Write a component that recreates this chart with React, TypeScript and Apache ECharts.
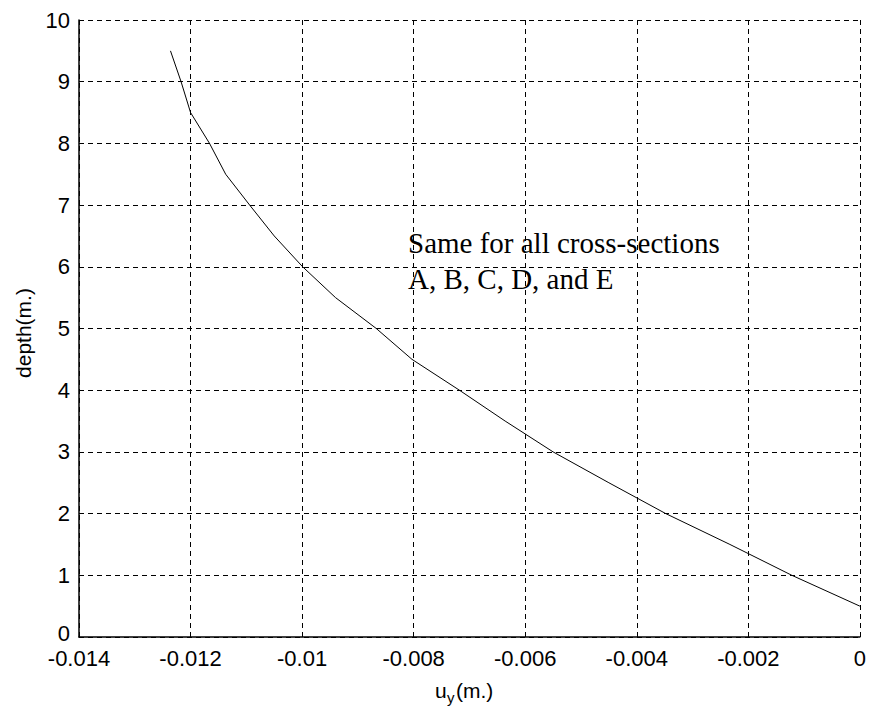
import React, { useEffect, useRef } from "react";
import * as echarts from "echarts";

const depthValues: number[] = [9.5, 9.0, 8.5, 8.0, 7.5, 7.0, 6.5, 6.0, 5.5, 5.0, 4.5, 4.0, 3.5, 3.0, 2.5, 2.0, 1.5, 1.0, 0.5];
const uyValues: number[] = [
  -0.01236, -0.01217, -0.012, -0.01166, -0.01137, -0.01094, -0.0105, -0.00999, -0.0094, -0.00867,
  -0.00803, -0.00718, -0.00636, -0.0055, -0.0045, -0.00348, -0.00233, -0.00122, 0.0,
];
const annotationLines: string[] = ["Same for all cross-sections", "A, B, C, D, and E"];
const xAxisTitle = { main: "u", sub: "y", tail: "(m.)" };
const yAxisTitle = "depth(m.)";

const SANS = "'Liberation Sans', Arial, Helvetica, sans-serif";
const SERIF = "'Liberation Serif', 'Times New Roman', serif";

export default function App() {
  const ref = useRef<HTMLDivElement>(null);
  useEffect(() => {
    document.body.style.margin = "0";
    if (!ref.current) return;
    const chart = echarts.init(ref.current, undefined, { renderer: "svg" });
    const data = depthValues.map((d, i) => [uyValues[i], d]);
    const gridLine = { show: true, lineStyle: { color: "#000", type: [5, 4] as any, width: 1 } };
    chart.setOption({
      animation: false,
      backgroundColor: "#fff",
      grid: { left: 79, right: 7, top: 20, bottom: 76, containLabel: false },
      xAxis: {
        type: "value",
        min: -0.014,
        max: 0,
        interval: 0.002,
        axisLine: { show: true, onZero: false, lineStyle: { color: "#000", width: 1.5 } },
        axisTick: { show: true, inside: true, length: 5, lineStyle: { color: "#000" } },
        axisLabel: {
          color: "#000",
          fontSize: 22,
          lineHeight: 20,
          fontFamily: SANS,
          margin: 11,
          formatter: (v: number) => String(+v.toFixed(3)),
        },
        splitLine: gridLine,
      },
      yAxis: {
        type: "value",
        min: 0,
        max: 10,
        interval: 1,
        axisLine: { show: true, onZero: false, lineStyle: { color: "#000", width: 1.5 } },
        axisTick: { show: true, inside: true, length: 5, lineStyle: { color: "#000" } },
        axisLabel: {
          color: "#000",
          fontSize: 22,
          lineHeight: 18,
          fontFamily: SANS,
          margin: 9,
          formatter: (v: number) => (v === 0 ? "{z|0}" : String(v)),
          rich: {
            z: { color: "#000", fontSize: 22, lineHeight: 18, fontFamily: SANS, padding: [0, 0, 8, 0] },
          },
        },
        splitLine: gridLine,
      },
      series: [
        {
          type: "line",
          data,
          showSymbol: false,
          symbol: "none",
          lineStyle: { color: "#000", width: 1 },
        },
      ],
      graphic: [
        {
          type: "text",
          left: 408,
          top: 225,
          style: {
            text: annotationLines.join("\n"),
            font: `29px ${SERIF}`,
            lineHeight: 36,
            fill: "#000",
          },
        },
        {
          type: "text",
          x: 435,
          y: 690,
          style: { text: xAxisTitle.main, font: `21px ${SANS}`, fill: "#000", verticalAlign: "middle" },
        },
        {
          type: "text",
          x: 447,
          y: 697,
          style: { text: xAxisTitle.sub, font: `15px ${SANS}`, fill: "#000", verticalAlign: "middle" },
        },
        {
          type: "text",
          x: 456,
          y: 690,
          style: { text: xAxisTitle.tail, font: `21px ${SANS}`, fill: "#000", verticalAlign: "middle" },
        },
        {
          type: "text",
          x: 23,
          y: 333,
          rotation: Math.PI / 2,
          style: {
            text: yAxisTitle,
            font: `21px ${SANS}`,
            fill: "#000",
            align: "center",
            verticalAlign: "middle",
          },
        },
      ],
    });
    return () => chart.dispose();
  }, []);
  return <div ref={ref} style={{ width: 869, height: 713 }} />;
}
